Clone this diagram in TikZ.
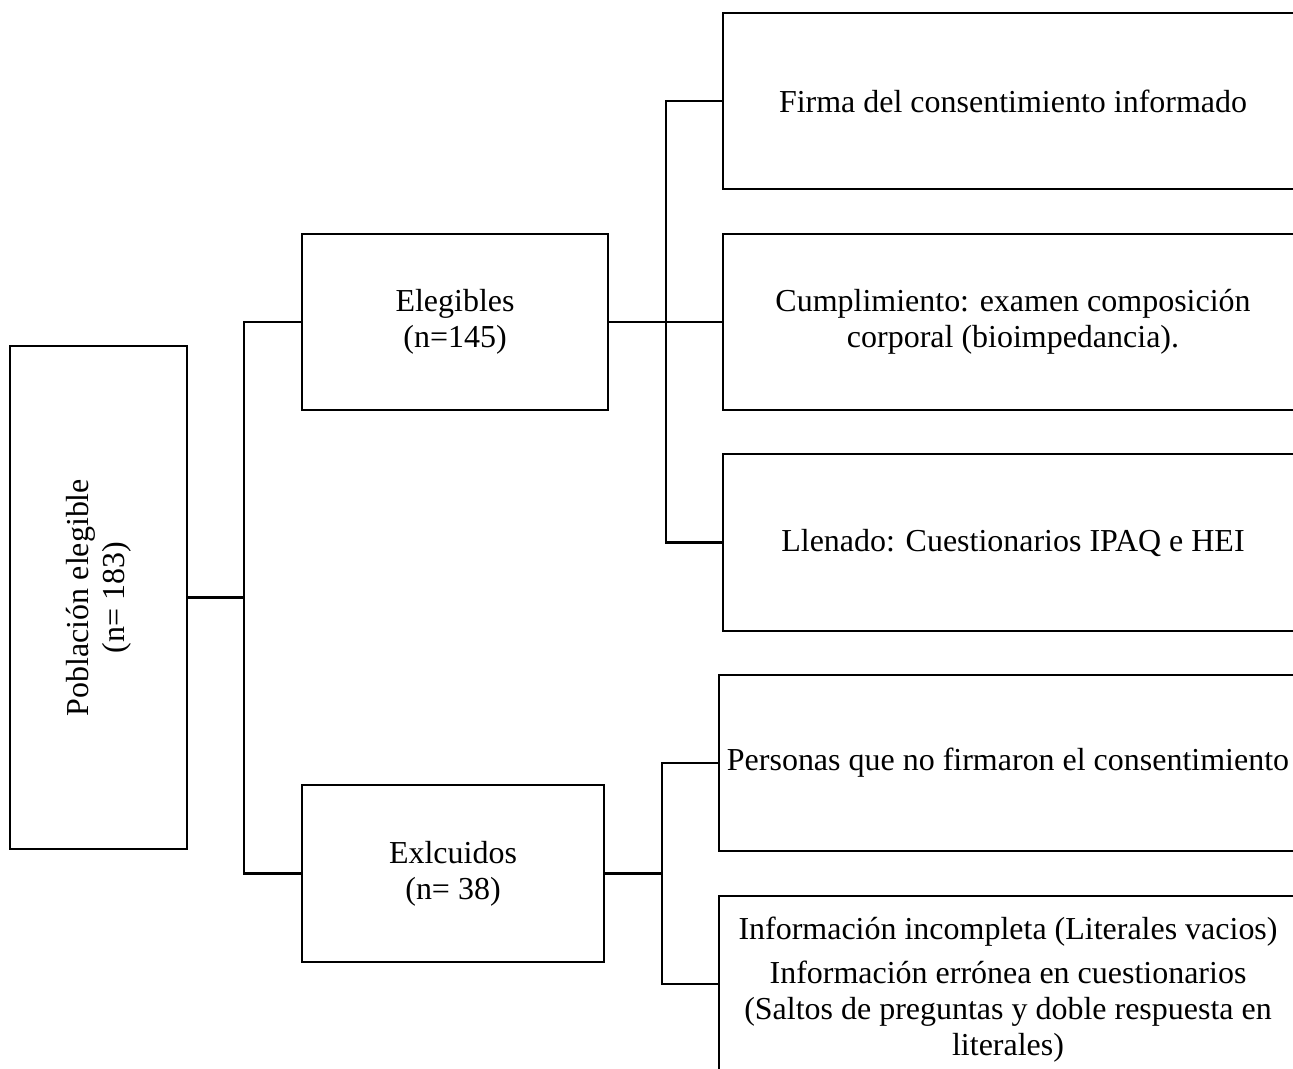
\documentclass[tikz,border=0pt]{standalone}
\usepackage{fontspec}
\setmainfont{Liberation Serif}
\tikzset{
    box/.style={draw, line width=1.3pt, align=center, inner sep=0pt,
        font=\fontsize{18.2}{20.5}\selectfont},
    link/.style={line width=1.3pt}
}

\begin{document}
\begin{tikzpicture}[x=0.02cm, y=-0.02cm]
        \useasboundingbox (0, 0) rectangle (1293, 1068);
        % first level
        \node[box, rotate=90, minimum width=10.06cm, minimum height=3.54cm] (root) at (98.5, 597.5) {Población elegible\\(n= 183)};
        % second level
        \node[box, minimum width=6.12cm, minimum height=3.52cm] (eleg) at (455, 322) {Elegibles\\(n=145)};
        \node[box, minimum width=6.04cm, minimum height=3.54cm] (excl) at (453, 873.5) {Exlcuidos\\(n= 38)};
        % third level, upper group
        \node[box, minimum width=11.6cm, minimum height=3.52cm] (firma) at (1013, 101) {Firma del consentimiento informado};
        \node[box, minimum width=11.6cm, minimum height=3.52cm] (cump) at (1013, 322) {Cumplimiento: examen composición\\corporal (bioimpedancia).};
        \node[box, minimum width=11.6cm, minimum height=3.54cm] (llen) at (1013, 542.5) {Llenado: Cuestionarios IPAQ e HEI};
        % third level, lower group
        \node[box, minimum width=11.56cm, minimum height=3.52cm] (pers) at (1008, 763) {Personas que no firmaron el consentimiento};
        \node[box, anchor=north, minimum width=11.56cm, inner ysep=0.42cm, text depth=3cm] (info) at (1008, 895) {Información incompleta (Literales vacios)\\[0.15cm]
            Información errónea en cuestionarios\\(Saltos de preguntas y doble respuesta en\\literales)};
        % connectors
        \coordinate (j1) at (244, 597.5);
        \coordinate (j2) at (666, 322);
        \coordinate (j3) at (662, 873.5);
        \draw[link] (root.south) -- (j1);
        \draw[link] (eleg.west) -| (j1) |- (excl.west);
        \draw[link] (eleg.east) -- (cump.west);
        \draw[link] (firma.west) -| (j2) |- (llen.west);
        \draw[link] (excl.east) -- (j3);
        \draw[link] (pers.west) -| (j3) |- ([yshift=-1.78cm]info.north west);
    \end{tikzpicture}
\end{document}
